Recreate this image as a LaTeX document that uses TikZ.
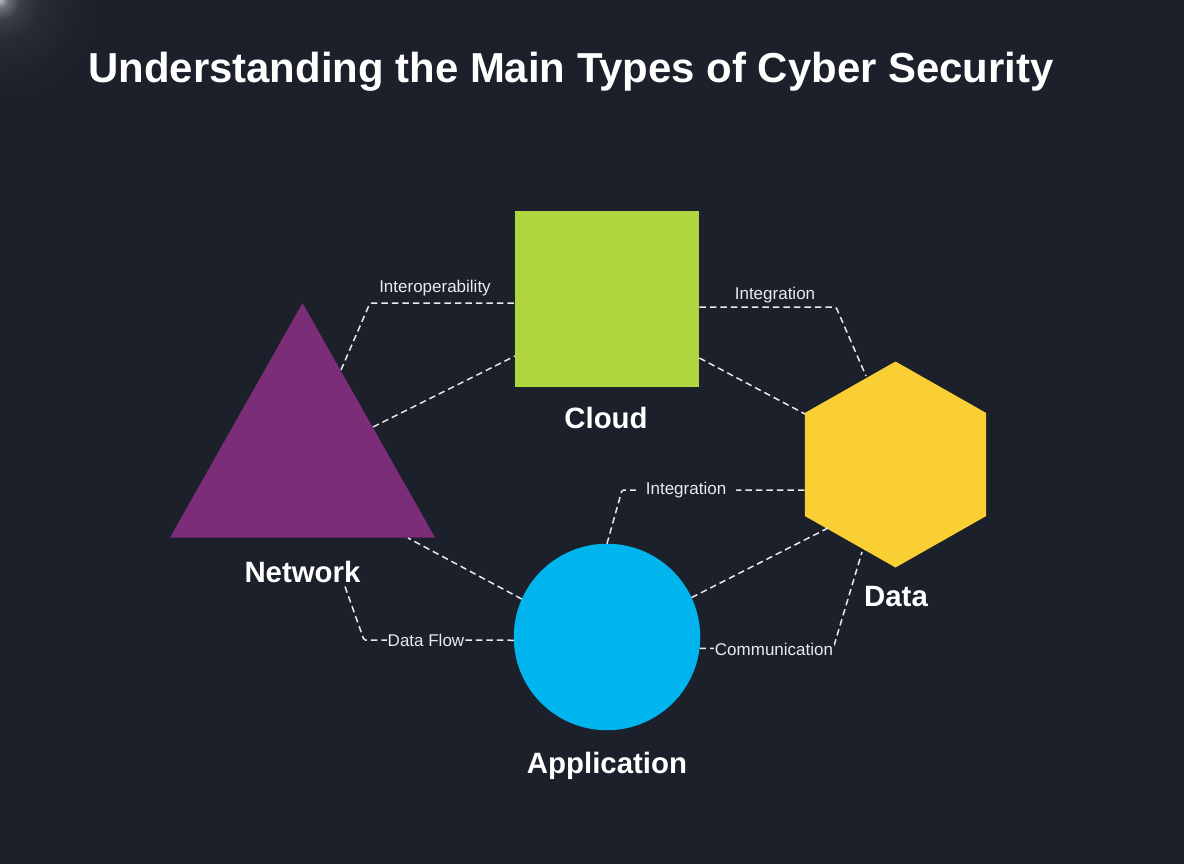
\documentclass[tikz,border=0pt]{standalone}
\usepackage{fontspec}
\setmainfont{Liberation Sans}
\usetikzlibrary{shapes.geometric,calc}
\definecolor{bgc}{HTML}{1B202B}
\definecolor{purp}{HTML}{7C2D78}
\definecolor{lime}{HTML}{AFD63F}
\definecolor{gold}{HTML}{F9CF33}
\definecolor{sky}{HTML}{00B5EE}
\definecolor{dashc}{HTML}{E8EAEC}
\definecolor{glowa}{HTML}{B8BABD}
\definecolor{glowb}{HTML}{6A6D74}
\definecolor{glowc}{HTML}{3A3E48}
\definecolor{glowd}{HTML}{262B36}
\definecolor{glowe}{HTML}{1D222D}
\pgfdeclareradialshading{cornerglow}{\pgfpoint{0bp}{0bp}}{%
  color(0bp)=(glowa);
  color(2bp)=(glowb);
  color(5bp)=(glowc);
  color(10bp)=(glowd);
  color(20bp)=(glowe);
  color(25bp)=(bgc);
  color(50bp)=(bgc)}
\tikzset{
  shapenode/.style={draw=none,inner sep=0pt,outer sep=0pt},
  conn/.style={draw=dashc,line width=1.5pt,dash pattern=on 6.5pt off 4pt,rounded corners=1.5pt},
  biglabel/.style={text=white,font=\bfseries\fontsize{29.4}{33}\selectfont,inner sep=0pt},
  smalllabel/.style={text=dashc,font=\fontsize{17}{20}\selectfont,inner sep=0pt},
  titlelabel/.style={text=white,font=\bfseries\fontsize{41.9}{48}\selectfont,inner sep=0pt}
}
\begin{document}
\begin{tikzpicture}[x=1pt,y=-1pt]
\useasboundingbox (0,0) rectangle (1184,864);
\fill[bgc] (0,0) rectangle (1184,864);
\begin{scope}
\clip (0,0) rectangle (1184,864);
\shade[shading=cornerglow] (0,0) circle (100);
\end{scope}
\node[titlelabel] (title) at (571,72) {Understanding the Main Types of Cyber Security};
% shapes
\node[shapenode,fill=lime,minimum width=184.5pt,minimum height=176pt] (cloud) at (607.2,299) {};
\node[shapenode,fill=sky,circle,minimum size=186.5pt] (app) at (607,637) {};
\node[shapenode,fill=gold,regular polygon,regular polygon sides=6,shape border rotate=30,minimum size=206pt,xscale=1.017] (data) at (895.5,464.5) {};
\node[shapenode,fill=purp,isosceles triangle,shape border rotate=90,isosceles triangle stretches,minimum width=265pt,minimum height=234.5pt] (net) at (302.5,460.25) {};
% labels
\node[biglabel] (cloudlabel) at (606,418) {Cloud};
\node[biglabel] (netlabel) at (302.5,571.5) {Network};
\node[biglabel] (datalabel) at (896,597) {Data};
\node[biglabel] (applabel) at (607,766) {Application};
% waypoints
\coordinate (w1) at (370,303);
\coordinate (w2) at (836,307);
\coordinate (w3) at (622,490);
\coordinate (w4) at (833,649);
\coordinate (w5) at (364,640);
% connectors
\draw[conn] ($(net.center)+(38.5,-90.25)$) -- (w1) -- ($(cloud.center)+(-92.2,4)$);
\draw[conn] ($(net.center)+(70.5,-33.25)$) -- ($(cloud.center)+(-92.2,57)$);
\draw[conn] ($(cloud.center)+(92.2,8)$) -- (w2) -- ($(data.center)+(-29.5,-88.5)$);
\draw[conn] ($(cloud.center)+(92.2,59)$) -- ($(data.center)+(-90.5,-50.5)$);
\draw[conn] (app.north) -- (w3) -- node[pos=.35,fill=bgc,inner sep=0pt,minimum width=100pt,minimum height=20pt,text=dashc,font=\fontsize{17}{20}\selectfont] (lblc) {Integration} ($(data.center)+(-90.5,25.5)$);
\draw[conn] (app.25) -- ($(data.center)+(-67.5,63.5)$);
\draw[conn] (app.-7.4) -- (w4) -- ($(data.center)+(-33.5,87.5)$);
\draw[conn] (app.156.5) -- ($(net.center)+(105.5,77.75)$);
\draw[conn] ($(netlabel.south)+(42.5,4)$) -- (w5) -- (app.182);
% small labels
\node[smalllabel] (l1) at (435,288) {Interoperability};
\node[smalllabel] (l2) at (775,295) {Integration};
\node[smalllabel,fill=bgc,inner xsep=1pt,minimum height=20pt] (l4) at (774,649.5) {Communication};
\node[smalllabel,fill=bgc,inner xsep=1pt,minimum height=20pt] (l5) at (426,640) {Data Flow};
\end{tikzpicture}
\end{document}
